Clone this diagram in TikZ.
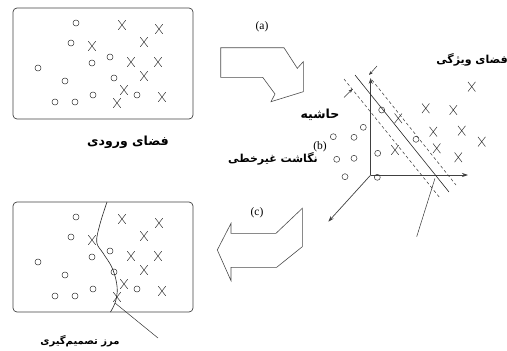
\documentclass[tikz,border=0pt]{standalone}
\usepackage{fontspec}
\setmainfont{Liberation Serif}
\newfontfamily\fa[Script=Arabic]{DejaVu Sans}
\TeXXeTstate=1
\usetikzlibrary{arrows.meta}
\tikzset{
  frame/.style={draw=black!75, line width=0.7pt, rounded corners=4pt},
  circ/.style={circle, draw=black!80, line width=0.5pt, inner sep=0pt, minimum size=6pt},
  xmark/.pic={\draw[black!80, line width=0.5pt] (-3.7,-4.8)--(3.7,4.8) (-3.7,4.8)--(3.7,-4.8);},
  bigarrow/.style={draw=black!70, line width=0.6pt, line join=miter},
  falabel/.style={font=\fa\bfseries\fontsize{11}{13}\selectfont, inner sep=0pt},
  falarge/.style={font=\fa\bfseries\fontsize{12.5}{14}\selectfont, inner sep=0pt},
  fasmall/.style={font=\fa\bfseries\fontsize{10}{12}\selectfont, inner sep=0pt},
  latlabel/.style={font=\fontsize{11.5}{13}\selectfont, inner sep=0pt},
  axis/.style={draw=black!75, line width=0.7pt, -{Stealth[length=6pt,width=4pt]}},
  marginline/.style={draw=black!80, line width=0.5pt, dashed, dash pattern=on 3pt off 2.5pt},
  pointer/.style={draw=black!80, line width=0.5pt},
  gap/.style={draw=black!80, line width=0.5pt, -{Stealth[length=4pt,width=3pt]}}
}
\begin{document}
\begin{tikzpicture}[x=1pt,y=-1pt]
\useasboundingbox (0,0) rectangle (507,351);

% ---------- input space ----------
\draw[frame] (13,8) rectangle (193,119);
\node[falarge] (inlabel) at (128,142) {\beginR فضای ورودی\endR};

\foreach \dy in {0,194}{
  \begin{scope}[shift={(0,\dy)}]
    \foreach \p in {(76,23),(71,43),(38,68),(92,63),(110,57),(65,81),(114,78),(93,95),(55,102),(75,102),(137,95)}
      \node[circ] at \p {};
    \foreach \p in {(122,25),(159,29),(92,46),(144,42),(131,62),(158,62),(144,76),(124,90),(117,103),(162,97)}
      \pic at \p {xmark};
  \end{scope}
}

% ---------- classified input space ----------
\draw[frame] (13,202) rectangle (193,312);
\draw[black!85, line width=0.6pt] plot[smooth, tension=0.6] coordinates
  {(107,202) (100,224) (96.7,242) (103,253) (111.5,266.5) (116,280) (117.2,292) (115,303) (110.5,312)};
\coordinate (bnd) at (115,303);
\coordinate (bndend) at (158,338);
\draw[pointer] (bnd) -- (bndend);
\node[fasmall] (bndlabel) at (80,341) {\beginR مرز تصمیم‌گیری\endR};

% ---------- mapping arrows ----------
\draw[bigarrow] (220.7,47.7) -- (284,47.7) -- (297.3,68.3) -- (303.3,61.7) -- (303.3,91.7)
  -- (271,101.7) -- (275,94) -- (262.7,77.3) -- (220.7,77.3) -- cycle;
\node[latlabel] (alabel) at (262,27) {(a)};

\draw[bigarrow] (217.3,250) -- (231,223.3) -- (231,233.3) -- (276,233.3) -- (302.3,208.3)
  -- (302.3,246.7) -- (276.7,267.3) -- (231,267.3) -- (231,280.7) -- cycle;
\node[latlabel] (clabel) at (257,213) {(c)};

% ---------- feature space ----------
\coordinate (o) at (370.7,175);
\coordinate (ytip) at (370.7,78);
\coordinate (xtip) at (468,175);
\coordinate (ztip) at (328.3,221.7);
\draw[axis] (o) -- (ytip);
\draw[axis] (o) -- (xtip);
\draw[axis] (o) -- (ztip);

% separating hyperplane and margins
\draw[black!85, line width=0.6pt] (355,75) -- (449,192);
\draw[marginline] (344,79) -- (440,198);
\draw[marginline] (372,80) -- (456,185);
% margin width indicators
\draw[gap] (377,66) -- (369,75);
\draw[gap] (344,97.5) -- (352.5,89);

\draw[pointer] (435,178.3) -- (416.7,236.7);

\foreach \p in {(381.7,110),(363.3,127.3),(333.3,136.7),(354,137.3),(416,139.3),(377.7,153.3),(336.7,159.3),(354,158.3),(345,176.7),(377.3,177.3)}
  \node[circ] at \p {};
\foreach \p in {(471.7,86.7),(425.7,108.3),(453.3,110),(398.3,118.3),(433.3,131.7),(461.7,130.7),(481.7,141.7),(436.7,148.3),(395,150),(458.3,157.3)}
  \pic at \p {xmark};

\node[falabel] (featlabel) at (472,60) {\beginR فضای ویژگی\endR};
\node[falarge] (marglabel) at (320,115) {\beginR حاشیه\endR};
\node[latlabel] (blabel) at (320,147) {(b)};
\node[falabel] (maplabel) at (273,159) {\beginR نگاشت غیرخطی\endR};
\end{tikzpicture}
\end{document}
